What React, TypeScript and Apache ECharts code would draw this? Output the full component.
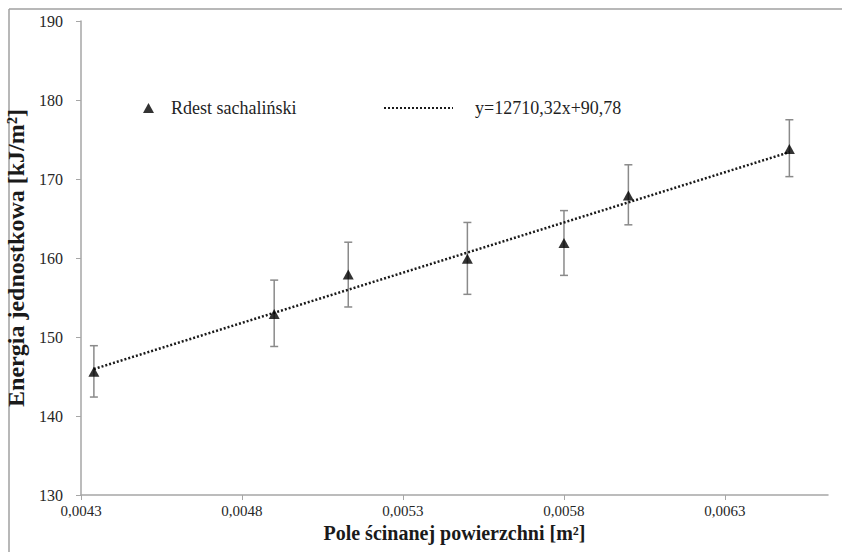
import React, { useEffect, useRef } from "react";
import * as echarts from "echarts";

// Data
const areaValues = [0.00434, 0.0049, 0.00513, 0.0055, 0.0058, 0.006, 0.0065];
const energyValues = [145.6, 152.9, 157.9, 159.9, 161.9, 167.9, 173.8];
const errorLow = [142.4, 148.8, 153.8, 155.4, 157.8, 164.2, 170.3];
const errorHigh = [148.9, 157.2, 162.0, 164.5, 166.0, 171.8, 177.5];

const seriesName = "Rdest sachaliński";
const trendLabel = "y=12710,32x+90,78";
const trendSlope = 12710.32;
const trendIntercept = 90.78;

const xAxisTitle = "Pole ścinanej powierzchni [m²]";
const yAxisTitle = "Energia jednostkowa [kJ/m²]";

const FONT = "'Times New Roman', 'Liberation Serif', serif";

export default function App() {
  const ref = useRef<HTMLDivElement>(null);

  useEffect(() => {
    if (!ref.current) return;
    const chart = echarts.init(ref.current, null, { renderer: "svg" });

    const scatterData = areaValues.map((x, i) => [x, energyValues[i]]);
    const errorData = areaValues.map((x, i) => [x, errorLow[i], errorHigh[i]]);
    const xFirst = areaValues[0];
    const xLast = areaValues[areaValues.length - 1];
    const trendData = [
      [xFirst, trendSlope * xFirst + trendIntercept],
      [xLast, trendSlope * xLast + trendIntercept],
    ];

    chart.setOption({
      animation: false,
      backgroundColor: "#ffffff",
      textStyle: { fontFamily: FONT },
      grid: {
        left: 81,
        right: 14,
        top: 21,
        bottom: 57,
        containLabel: false,
        outerBoundsMode: "none",
      },
      graphic: [
        {
          type: "line",
          shape: { x1: 9, y1: 9, x2: 842, y2: 9 },
          style: { stroke: "#a0a0a0", lineWidth: 1.5 },
          silent: true,
        },
        {
          type: "line",
          shape: { x1: 9, y1: 9, x2: 9, y2: 552 },
          style: { stroke: "#a0a0a0", lineWidth: 1.5 },
          silent: true,
        },
      ],
      legend: [
        {
          data: [{ name: seriesName, icon: "triangle" }],
          left: 143,
          top: 99,
          padding: 0,
          itemWidth: 11,
          itemHeight: 10,
          textStyle: {
            fontFamily: FONT,
            fontSize: 18,
            color: "#1f1f1f",
            padding: [0, 0, 0, 12],
          },
          selectedMode: false,
        },
        {
          data: [trendLabel],
          left: 383,
          top: 99,
          padding: 0,
          itemWidth: 69,
          itemHeight: 10,
          itemStyle: { color: "transparent", borderWidth: 0, opacity: 0 },
          textStyle: {
            fontFamily: FONT,
            fontSize: 18,
            color: "#1f1f1f",
            padding: [0, 0, 0, 17],
          },
          selectedMode: false,
        },
      ],
      xAxis: {
        type: "value",
        min: 0.0043,
        max: 0.00662,
        interval: 0.0005,
        name: xAxisTitle,
        nameLocation: "middle",
        nameGap: 16,
        nameTextStyle: {
          fontFamily: FONT,
          fontSize: 20,
          fontWeight: "bold",
          color: "#1a1a1a",
        },
        axisLine: { show: true, lineStyle: { color: "#a6a6a6", width: 1.5 } },
        axisTick: { show: true, length: 5, lineStyle: { color: "#a6a6a6" } },
        splitLine: { show: false },
        axisLabel: {
          fontFamily: FONT,
          fontSize: 15,
          color: "#262626",
          margin: 8,
          showMaxLabel: false,
          formatter: (v: number) => v.toFixed(4).replace(".", ","),
        },
      },
      yAxis: {
        type: "value",
        min: 130,
        max: 190,
        interval: 10,
        name: yAxisTitle,
        nameLocation: "middle",
        nameGap: 42,
        nameTextStyle: {
          fontFamily: FONT,
          fontSize: 24,
          fontWeight: "bold",
          color: "#1a1a1a",
        },
        axisLine: { show: true, lineStyle: { color: "#a6a6a6", width: 1.5 } },
        axisTick: { show: true, length: 5, lineStyle: { color: "#a6a6a6" } },
        splitLine: { show: false },
        axisLabel: {
          fontFamily: FONT,
          fontSize: 16,
          color: "#262626",
          margin: 18,
        },
      },
      series: [
        {
          type: "custom",
          name: "error",
          data: errorData,
          z: 1,
          renderItem: (params: any, api: any) => {
            const x = api.value(0);
            const lo = api.coord([x, api.value(1)]);
            const hi = api.coord([x, api.value(2)]);
            const cap = 4;
            const style = { stroke: "#8a8a8a", lineWidth: 1.5 };
            return {
              type: "group",
              children: [
                { type: "line", shape: { x1: lo[0], y1: lo[1], x2: hi[0], y2: hi[1] }, style },
                { type: "line", shape: { x1: hi[0] - cap, y1: hi[1], x2: hi[0] + cap, y2: hi[1] }, style },
                { type: "line", shape: { x1: lo[0] - cap, y1: lo[1], x2: lo[0] + cap, y2: lo[1] }, style },
              ],
            };
          },
          silent: true,
        },
        {
          type: "line",
          name: trendLabel,
          data: trendData,
          symbol: "none",
          z: 2,
          itemStyle: { color: "#1a1a1a" },
          lineStyle: { color: "#1a1a1a", width: 2.5, type: [2, 2] },
          silent: true,
        },
        {
          type: "scatter",
          name: seriesName,
          data: scatterData,
          symbol: "triangle",
          symbolSize: [11, 10],
          z: 3,
          itemStyle: { color: "#000" },
        },
      ],
    });

    return () => chart.dispose();
  }, []);

  return (
    <div
      ref={ref}
      style={{ position: "fixed", left: 0, top: 0, width: 842, height: 552 }}
    />
  );
}
